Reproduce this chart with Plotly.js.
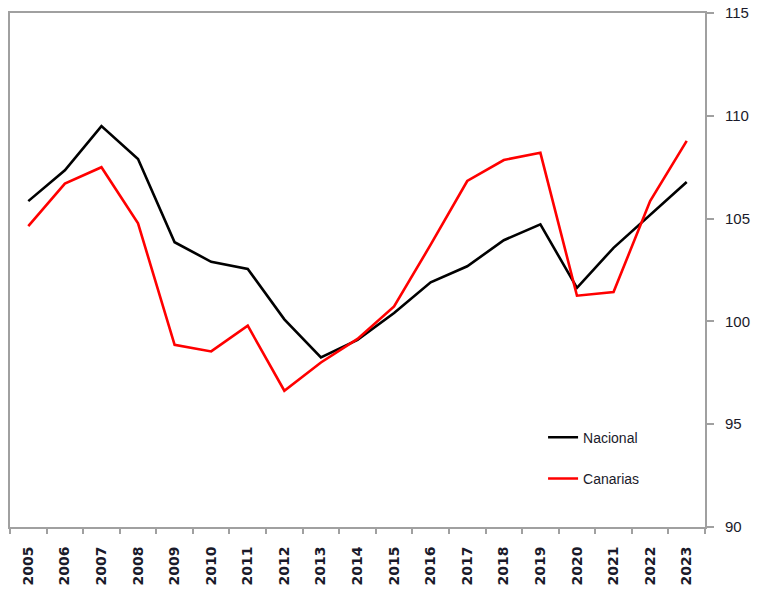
<!DOCTYPE html>
<html>
<head>
<meta charset="utf-8">
<script src="https://cdn.plot.ly/plotly-3.0.1.min.js"></script>
<style>html,body{margin:0;padding:0;background:#fff;}#chart{width:763px;height:594px;}</style>
</head>
<body>
<div id="chart"></div>
<script>
const years = ["2005","2006","2007","2008","2009","2010","2011","2012","2013","2014","2015","2016","2017","2018","2019","2020","2021","2022","2023"];
const nacional = [105.85,107.35,109.5,107.9,103.85,102.9,102.55,100.1,98.25,99.1,100.41,101.9,102.68,103.95,104.72,101.63,103.58,105.2,106.78];
const canarias = [104.63,106.7,107.5,104.77,98.86,98.54,99.79,96.63,98.0,99.15,100.73,103.73,106.83,107.85,108.2,101.25,101.43,105.85,108.78];
const yTicks = [90,95,100,105,110,115];

const traces = [
  {x: years, y: nacional, name: "Nacional", type: "scatter", mode: "lines",
   line: {color: "#000000", width: 2.6}, legendgroup: "a"},
  {x: years, y: canarias, name: "Canarias", type: "scatter", mode: "lines",
   line: {color: "#ff0000", width: 2.6}, legendgroup: "b"}
];

const layout = {
  width: 763, height: 594,
  margin: {l: 10, r: 58, t: 13, b: 67, pad: 0},
  paper_bgcolor: "#ffffff", plot_bgcolor: "#ffffff",
  font: {family: "Liberation Sans, Arial, sans-serif", size: 14, color: "#1a1a1a"},
  showlegend: true,
  legend: {x: 0.767, y: 0.205, xanchor: "left", yanchor: "top",
           bgcolor: "rgba(0,0,0,0)", borderwidth: 0,
           traceorder: "grouped", tracegroupgap: 20,
           font: {family: "Liberation Sans, Arial, sans-serif", size: 14, color: "#1a1a2a"}},
  xaxis: {type: "category", showgrid: false, zeroline: false,
          showline: true, linecolor: "#a0a0a0", linewidth: 2, mirror: true,
          ticks: "outside", tickson: "boundaries", ticklen: 5, tickcolor: "#a0a0a0", tickwidth: 2,
          tickangle: -90, tickfont: {family: "DejaVu Sans, sans-serif", size: 14, color: "#1a1a2a", weight: "bold"},
          ticklabelstandoff: 12,
          range: [-0.5, years.length - 0.5], fixedrange: true},
  yaxis: {side: "right", range: [90, 115], tickvals: yTicks, ticktext: yTicks.map(String),
          showgrid: false, zeroline: false,
          showline: true, linecolor: "#a0a0a0", linewidth: 2, mirror: true,
          ticks: "outside", ticklen: 7, tickcolor: "#a0a0a0", tickwidth: 2,
          tickfont: {family: "Liberation Sans, Arial, sans-serif", size: 15, color: "#1a1a2a"},
          ticklabelstandoff: 8, fixedrange: true}
};

Plotly.newPlot("chart", traces, layout, {displayModeBar: false, staticPlot: true});
</script>
</body>
</html>
